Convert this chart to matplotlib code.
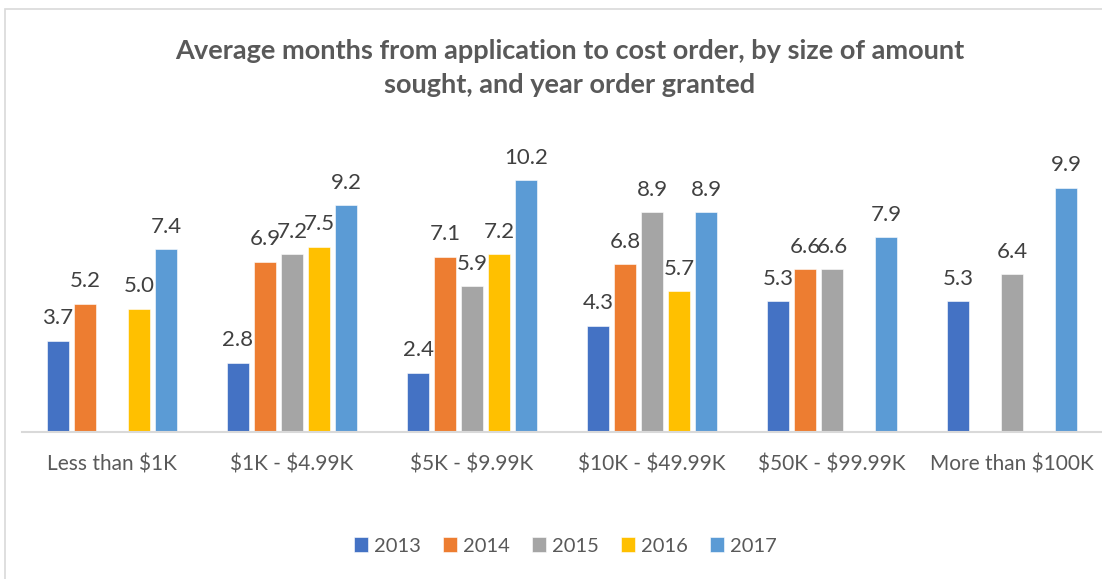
import numpy as np
import matplotlib.pyplot as plt
from matplotlib.patches import Rectangle

plt.rcParams["font.family"] = ["Lato", "DejaVu Sans"]

categories = [
    r"Less than \$1K",
    r"\$1K - \$4.99K",
    r"\$5K - \$9.99K",
    r"\$10K - \$49.99K",
    r"\$50K - \$99.99K",
    r"More than \$100K",
]
years = ["2013", "2014", "2015", "2016", "2017"]

# months, nan = no value shown for that year
y2013 = [3.7, 2.8, 2.4, 4.3, 5.3, 5.3]
y2014 = [5.2, 6.9, 7.1, 6.8, 6.6, np.nan]
y2015 = [np.nan, 7.2, 5.9, 8.9, 6.6, 6.4]
y2016 = [5.0, 7.5, 7.2, 5.7, np.nan, np.nan]
y2017 = [7.4, 9.2, 10.2, 8.9, 7.9, 9.9]
series = [y2013, y2014, y2015, y2016, y2017]

colors = ["#4472C4", "#ED7D31", "#A5A5A5", "#FFC000", "#5B9BD5"]

fig = plt.figure(figsize=(11.02, 5.79), dpi=100)
fig.patches.append(
    Rectangle((5 / 1102, -0.1), 1.2, 1 - 9 / 579 + 0.1, transform=fig.transFigure,
              fill=False, edgecolor="#D9D9D9", linewidth=1.2)
)
ax = fig.add_axes([22 / 1102, 1 - 432 / 579, 1 - 22 / 1102, (432 - 136) / 579])

x = np.arange(len(categories))
width = 0.12
pitch = 0.15
for i, (vals, col, yr) in enumerate(zip(series, colors, years)):
    pos = x + (i - 2) * pitch
    vals = np.array(vals, dtype=float)
    ax.bar(pos, np.nan_to_num(vals), width, color=col, label=yr,
           edgecolor="white", linewidth=0.4)
    for p, v in zip(pos, vals):
        if not np.isnan(v):
            ax.annotate(f"{v:.1f}", (p, v), xytext=(0, 9), textcoords="offset points",
                        ha="center", va="bottom", fontsize=16, color="#404040")

ax.set_xlim(-0.5, len(categories) - 0.5)
ax.set_ylim(0, 12)
ax.set_yticks([])
ax.set_xticks(x)
ax.set_xticklabels(categories, fontsize=15, color="#595959")
ax.tick_params(axis="x", length=0, pad=16)
for s in ["top", "right", "left"]:
    ax.spines[s].set_visible(False)
ax.spines["bottom"].set_color("#D9D9D9")
ax.spines["bottom"].set_linewidth(1.5)

fig.text(0.517, 1 - 68 / 579,
         "Average months from application to cost order, by size of amount\nsought, and year order granted",
         ha="center", va="center", fontsize=19.5, fontweight="bold", color="#595959",
         linespacing=1.5)

fig.legend(loc="center", bbox_to_anchor=(0.513, 1 - 546 / 579), ncol=5, frameon=False,
           fontsize=14.5, labelcolor="#595959", handlelength=0.7, handleheight=0.7,
           handletextpad=0.3, columnspacing=1.1)

fig.savefig("out.png", dpi=100)
